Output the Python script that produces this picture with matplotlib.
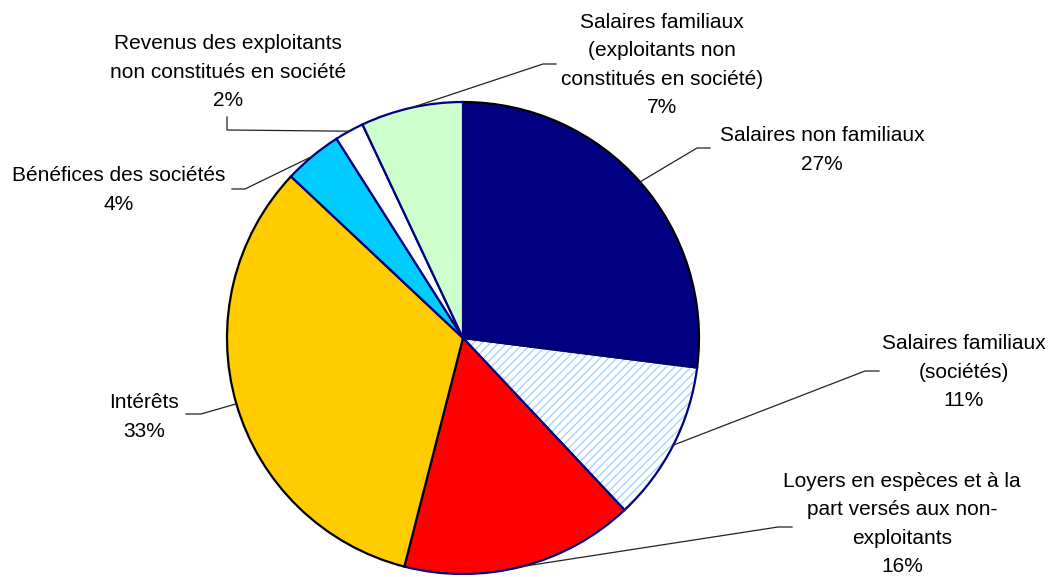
import numpy as np
import matplotlib.pyplot as plt
from matplotlib.patches import Wedge

plt.rcParams['font.family'] = ['Liberation Sans', 'DejaVu Sans']
plt.rcParams['hatch.linewidth'] = 1.0

# Données
categories = [
    'Salaires non familiaux',
    'Salaires familiaux\n(sociétés)',
    'Loyers en espèces et à la\npart versés aux non-\nexploitants',
    'Intérêts',
    'Bénéfices des sociétés',
    'Revenus des exploitants\nnon constitués en société',
    'Salaires familiaux\n(exploitants non\nconstitués en société)',
]
values = [27, 11, 16, 33, 4, 2, 7]
colors = ['#000080', '#FFFFFF', '#FF0000', '#FFCC00', '#00CCFF', '#FFFFFF', '#CCFFCC']

# Mise en page (coordonnées en pixels de l'image)
center = (463, 338)
radius = 236
text_pos = [(822, 150), (964, 372), (902, 524), (144, 417), (119, 190), (228, 72), (662, 65)]
elbows = [
    [(697, 148), (710, 148)],
    [(865, 371), (879, 371)],
    [(778, 527), (792, 527)],
    [(201, 414), (186, 414)],
    [(245, 189), (232, 189)],
    [(227, 130), (227, 117)],
    [(543, 64), (556, 64)],
]

fig = plt.figure(figsize=(10.52, 5.77), dpi=100)
ax = fig.add_axes([0, 0, 1, 1])

# axe y inversé -> counterclock=True donne le sens horaire à l'écran
wedges, _ = ax.pie(values, colors=colors, startangle=-90, counterclock=True,
                   center=center, radius=radius,
                   wedgeprops=dict(edgecolor='#000080', linewidth=1.6))
wedges[0].set_edgecolor('black')
wedges[3].set_edgecolor('black')

# tranche hachurée
w = wedges[1]
hatch = Wedge(w.center, w.r, w.theta1, w.theta2, facecolor='white',
              edgecolor='#A6D2FF', linewidth=0, hatch='////', zorder=w.get_zorder() - 0.1)
ax.add_patch(hatch)
w.set_facecolor('none')

ax.set_xlim(0, 1052)
ax.set_ylim(577, 0)
ax.axis('off')

for w, lab, v, tp, el in zip(wedges, categories, values, text_pos, elbows):
    mid = np.deg2rad((w.theta1 + w.theta2) / 2)
    x0 = w.center[0] + w.r * np.cos(mid)
    y0 = w.center[1] + w.r * np.sin(mid)
    xs = [x0] + [p[0] for p in el]
    ys = [y0] + [p[1] for p in el]
    ax.plot(xs, ys, color='#222222', lw=0.9, zorder=5)
    ax.text(tp[0], tp[1], f'{lab}\n{v}%', ha='center', va='center',
            fontsize=15, linespacing=1.62, color='black')

plt.savefig('out.png', dpi=100)
